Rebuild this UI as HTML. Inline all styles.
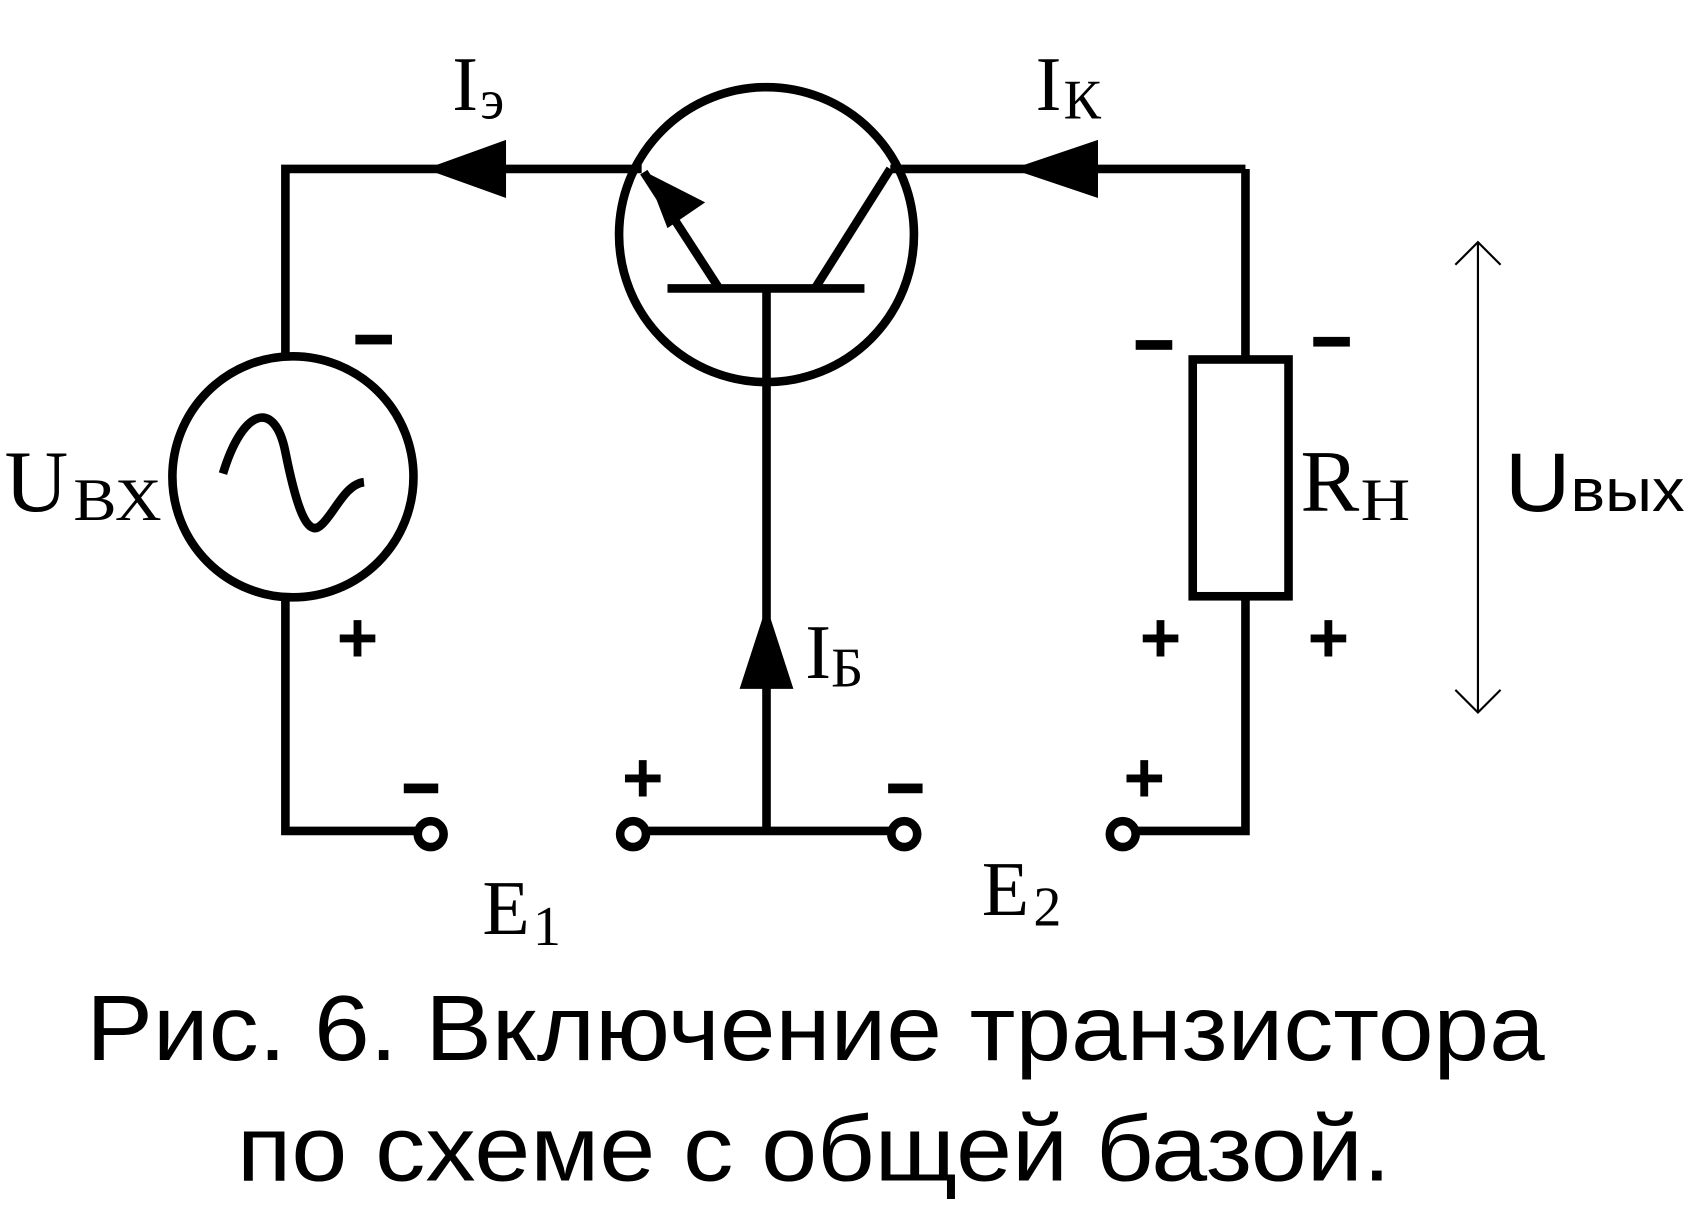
<!DOCTYPE html>
<html><head><meta charset="utf-8"><style>
html,body{margin:0;padding:0;background:#fff;}
svg{display:block;}
.s{font-family:"Liberation Serif",serif;}
.a{font-family:"Liberation Sans",sans-serif;}
</style></head><body>
<svg width="1688" height="1213" viewBox="0 0 1568 1127" xmlns="http://www.w3.org/2000/svg">
<g stroke="#000" stroke-width="8" fill="none">
<polyline points="388,772 265,772 265,555"/>
<polyline points="265,331 265,157 596,157"/>
<circle cx="272" cy="443" r="112"/>
<path d="M207,440 C225,380 255,370 265,420 C275,470 285,500 298,488 C310,478 320,450 338,448" stroke-width="8"/>
<circle cx="712" cy="218" r="137"/>
<line x1="620" y1="268" x2="803" y2="268"/>
<line x1="668" y1="268" x2="598" y2="160"/>
<line x1="757" y1="268" x2="827" y2="157"/>
<line x1="827" y1="157" x2="1157" y2="157"/>
<polyline points="1157,157 1157,333"/>
<rect x="1108" y="334" width="89" height="220"/>
<polyline points="1157,555 1157,772 1055,772"/>
<line x1="712" y1="268" x2="712" y2="772"/>
<line x1="600" y1="772" x2="828" y2="772"/>
<circle cx="400" cy="775" r="12"/>
<circle cx="588" cy="775" r="12"/>
<circle cx="840" cy="775" r="12"/>
<circle cx="1043" cy="775" r="12"/>
</g>
<polygon points="395,157 470,130 470,184" fill="#000"/>
<polygon points="940,157 1020,130 1020,184" fill="#000"/>
<polygon points="712,563 687,640 737,640" fill="#000"/>
<polygon points="600,160 655,188 620,212" fill="#000"/>
<g stroke="#000" stroke-width="2" fill="none">
<line x1="1373" y1="225" x2="1373" y2="662"/>
<polyline points="1352,246 1373,225 1394,246"/>
<polyline points="1352,641 1373,662 1394,641"/>
</g>
<g fill="#000">
<rect x="330" y="311" width="34" height="9"/>
<rect x="1055" y="316" width="34" height="9"/>
<rect x="1220" y="313" width="34" height="9"/>
<rect x="375" y="728" width="32" height="9"/>
<rect x="825" y="728" width="32" height="9"/>
</g>
<g class="a" font-size="66" font-weight="bold" text-anchor="middle">
<text x="332" y="615">+</text>
<text x="1078" y="615">+</text>
<text x="1234" y="615">+</text>
<text x="597" y="745">+</text>
<text x="1063" y="745">+</text>
</g>
<g class="s" fill="#000">
<text x="420" y="102" font-size="72">I</text><text x="446" y="110" font-size="52">э</text>
<text x="962" y="102" font-size="72">I</text><text x="988" y="110" font-size="52">К</text>
<text x="748" y="630" font-size="72">I</text><text x="772" y="638" font-size="52">Б</text>
<text x="4" y="475" font-size="82">U</text><text x="68" y="483" font-size="56" textLength="82" lengthAdjust="spacingAndGlyphs">ВХ</text>
<text x="1208" y="475" font-size="82">R</text><text x="1264" y="483" font-size="56" textLength="46" lengthAdjust="spacingAndGlyphs">Н</text>
<text x="448" y="868" font-size="72">E</text><text x="495" y="878" font-size="52">1</text>
<text x="912" y="850" font-size="72">E</text><text x="960" y="860" font-size="52">2</text>
</g>
<text class="a" x="1398" y="475" font-size="78" textLength="167" lengthAdjust="spacingAndGlyphs">U<tspan font-size="56">вых</tspan></text>
<g class="a" font-size="86">
<text x="80" y="985" textLength="1355" lengthAdjust="spacingAndGlyphs">Рис. 6. Включение транзистора</text>
<text x="220" y="1097" textLength="1072" lengthAdjust="spacingAndGlyphs">по схеме с общей базой.</text>
</g>
</svg>
</body></html>
